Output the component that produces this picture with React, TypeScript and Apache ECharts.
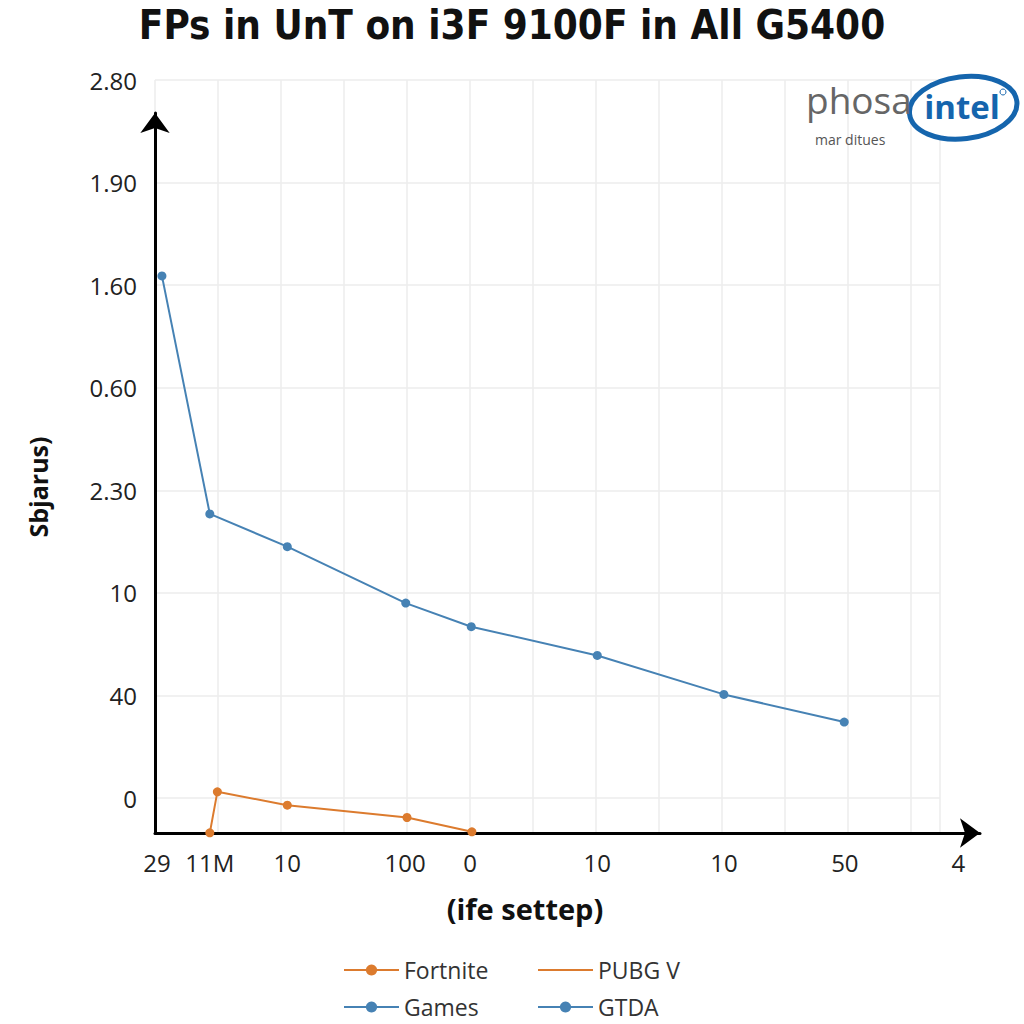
import React, { useEffect, useRef } from "react";
import * as echarts from "echarts";

const titleText = "FPs in UnT on i3F 9100F in All G5400";
const yAxisName = "Sbjarus)";
const xAxisName = "(ife settep)";

// y tick labels, from the top gridline down to the lowest one
const yTickLabels = ["2.80", "1.90", "1.60", "0.60", "2.30", "10", "40", "0"];

// x tick labels and their positions along the axis
const xTickPositions = [0.03, 0.87, 2.1, 3.97, 5.0, 7.02, 9.03, 10.95, 12.75];
const xTickLabels = ["29", "11M", "10", "100", "0", "10", "10", "50", "4"];

const seriesNames = ["Fortnite", "PUBG V", "Games", "GTDA"];

const gamesX = [0.11, 0.87, 2.1, 3.98, 5.02, 7.02, 9.03, 10.94];
const gamesY = [5.09, 2.77, 2.45, 1.9, 1.67, 1.39, 1.01, 0.74];

const fortniteX = [0.87, 0.99, 2.1, 4.0, 5.03];
const fortniteY = [-0.34, 0.06, -0.07, -0.19, -0.33];

const ORANGE = "#dc7b2e";
const BLUE = "#4682b4";
const FONT = "'Open Sans', 'Liberation Sans', sans-serif";

export default function App() {
  const ref = useRef<HTMLDivElement>(null);

  useEffect(() => {
    if (!ref.current) return;
    const chart = echarts.init(ref.current, null, { renderer: "svg" });

    const unit = 63;
    const gridALeft = 155;
    const gridATop = 80;
    const gridABottom = 833;
    const gridARight = 940;
    const yPerUnit = (798 - gridATop) / 7;
    const dataYMin = -(gridABottom - 798) / yPerUnit;
    const labelYMax = (gridABottom - gridATop) / yPerUnit;

    const gridBRight = 980;
    const gridBTop = 113;

    const pair = (xs: number[], ys: number[]) => xs.map((x, i) => [x, ys[i]]);

    const legendCommon = {
      itemWidth: 55,
      itemHeight: 14,
      itemGap: 6,
      padding: 0,
      textStyle: { fontSize: 23, lineHeight: 26, color: "#333", fontFamily: FONT },
    };

    const option: any = {
      animation: false,
      backgroundColor: "#ffffff",
      title: {
        text: titleText,
        left: "center",
        top: 0,
        textStyle: {
          fontSize: 40,
          fontWeight: "bold",
          color: "#111",
          fontFamily: "'Liberation Sans Narrow', 'DejaVu Sans Condensed', 'Liberation Sans', sans-serif",
        },
      },
      grid: [
        {
          left: gridALeft,
          top: gridATop,
          width: gridARight - gridALeft,
          height: gridABottom - gridATop,
        },
        {
          left: gridALeft,
          top: gridBTop,
          width: gridBRight - gridALeft,
          height: gridABottom - gridBTop,
        },
      ],
      xAxis: [
        {
          type: "value",
          gridIndex: 0,
          min: 0,
          max: (gridARight - gridALeft) / unit,
          interval: 1,
          axisLine: { show: false },
          axisTick: { show: false },
          axisLabel: { show: false },
          splitLine: { show: true, lineStyle: { color: "#ececec", width: 1.5 } },
        },
        {
          type: "value",
          gridIndex: 1,
          min: 0,
          max: (gridBRight - gridALeft) / unit,
          axisLine: {
            show: true,
            symbol: ["none", "arrow"],
            symbolSize: [22, 20],
            lineStyle: { color: "#000", width: 3 },
          },
          axisTick: { show: false },
          splitLine: { show: false },
          axisLabel: {
            show: true,
            customValues: xTickPositions,
            margin: 17,
            fontSize: 24,
            color: "#222",
            fontFamily: FONT,
            formatter: (v: number) => {
              let best = -1;
              let bd = 1e9;
              xTickPositions.forEach((p, i) => {
                const d = Math.abs(p - v);
                if (d < bd) {
                  bd = d;
                  best = i;
                }
              });
              return best >= 0 && bd < 0.01 ? xTickLabels[best] : "";
            },
          },
        },
      ],
      yAxis: [
        {
          type: "value",
          gridIndex: 0,
          inverse: true,
          min: 0,
          max: labelYMax,
          interval: 1,
          axisLine: { show: false },
          axisTick: { show: false },
          splitLine: { show: true, lineStyle: { color: "#ececec", width: 1.5 } },
          axisLabel: {
            margin: 18,
            fontSize: 24,
            color: "#222",
            fontFamily: FONT,
            showMaxLabel: false,
            formatter: (v: number) => {
              const i = Math.round(v);
              if (Math.abs(v - i) > 0.01) return "";
              return yTickLabels[i] ?? "";
            },
          },
        },
        {
          type: "value",
          gridIndex: 0,
          min: dataYMin,
          max: 7,
          show: false,
          splitLine: { show: false },
        },
        {
          type: "value",
          gridIndex: 1,
          min: 0,
          max: 1,
          axisLine: {
            show: true,
            symbol: ["none", "arrow"],
            symbolSize: [22, 20],
            lineStyle: { color: "#000", width: 3 },
          },
          axisTick: { show: false },
          axisLabel: { show: false },
          splitLine: { show: false },
        },
      ],
      legend: [
        { ...legendCommon, data: [seriesNames[0]], left: 343, top: 957 },
        {
          ...legendCommon,
          data: [
            {
              name: seriesNames[1],
              itemStyle: { color: "rgba(0,0,0,0)", borderWidth: 0 },
            },
          ],
          left: 537,
          top: 957,
        },
        { ...legendCommon, data: [seriesNames[2]], left: 343, top: 994 },
        { ...legendCommon, data: [seriesNames[3]], left: 537, top: 994 },
      ],
      series: [
        {
          name: seriesNames[0],
          type: "line",
          xAxisIndex: 0,
          yAxisIndex: 1,
          data: pair(fortniteX, fortniteY),
          symbol: "circle",
          symbolSize: 9,
          clip: false,
          lineStyle: { color: ORANGE, width: 2 },
          itemStyle: { color: ORANGE },
        },
        {
          name: seriesNames[1],
          type: "line",
          xAxisIndex: 0,
          yAxisIndex: 1,
          data: [],
          symbol: "none",
          lineStyle: { color: ORANGE, width: 2 },
          itemStyle: { color: ORANGE },
        },
        {
          name: seriesNames[2],
          type: "line",
          xAxisIndex: 0,
          yAxisIndex: 1,
          data: pair(gamesX, gamesY),
          symbol: "circle",
          symbolSize: 9,
          clip: false,
          lineStyle: { color: BLUE, width: 2 },
          itemStyle: { color: BLUE },
        },
        {
          name: seriesNames[3],
          type: "line",
          xAxisIndex: 0,
          yAxisIndex: 1,
          data: [],
          symbol: "circle",
          symbolSize: 9,
          lineStyle: { color: BLUE, width: 2 },
          itemStyle: { color: BLUE },
        },
      ],
      graphic: [
        {
          type: "text",
          x: 38,
          y: 487,
          rotation: Math.PI / 2,
          style: {
            text: yAxisName,
            fontSize: 25,
            fontWeight: "bold",
            fill: "#111",
            fontFamily: FONT,
            align: "center",
            verticalAlign: "middle",
          },
        },
        {
          type: "text",
          x: 525,
          y: 908,
          style: {
            text: xAxisName,
            fontSize: 29,
            fontWeight: "bold",
            fill: "#111",
            fontFamily: FONT,
            align: "center",
            verticalAlign: "middle",
          },
        },
        {
          type: "ellipse",
          shape: { cx: 963, cy: 108, rx: 54, ry: 31 },
          rotation: 0.12,
          originX: 963,
          originY: 108,
          style: { fill: "#ffffff", stroke: "#1565ad", lineWidth: 5 },
          z: 10,
        },
        {
          type: "text",
          x: 806,
          y: 118,
          style: {
            text: "phosa",
            fontSize: 37,
            lineHeight: 37,
            fill: "#666",
            fontFamily: FONT,
            verticalAlign: "bottom",
          },
          z: 11,
        },
        {
          type: "text",
          x: 815,
          y: 139,
          style: {
            text: "mar ditues",
            fontSize: 14,
            fill: "#555",
            fontFamily: FONT,
            verticalAlign: "middle",
          },
          z: 11,
        },
        {
          type: "text",
          x: 962,
          y: 106,
          style: {
            text: "intel",
            fontSize: 33,
            fontWeight: "bold",
            fill: "#1565ad",
            fontFamily: FONT,
            align: "center",
            verticalAlign: "middle",
          },
          z: 11,
        },
        {
          type: "circle",
          shape: { cx: 1003, cy: 92, r: 3 },
          style: { fill: "none", stroke: "#1565ad", lineWidth: 1 },
          z: 11,
        },
      ],
    };

    chart.setOption(option);
    return () => chart.dispose();
  }, []);

  return (
    <div
      ref={ref}
      style={{ position: "fixed", left: 0, top: 0, width: 1024, height: 1024 }}
    />
  );
}
